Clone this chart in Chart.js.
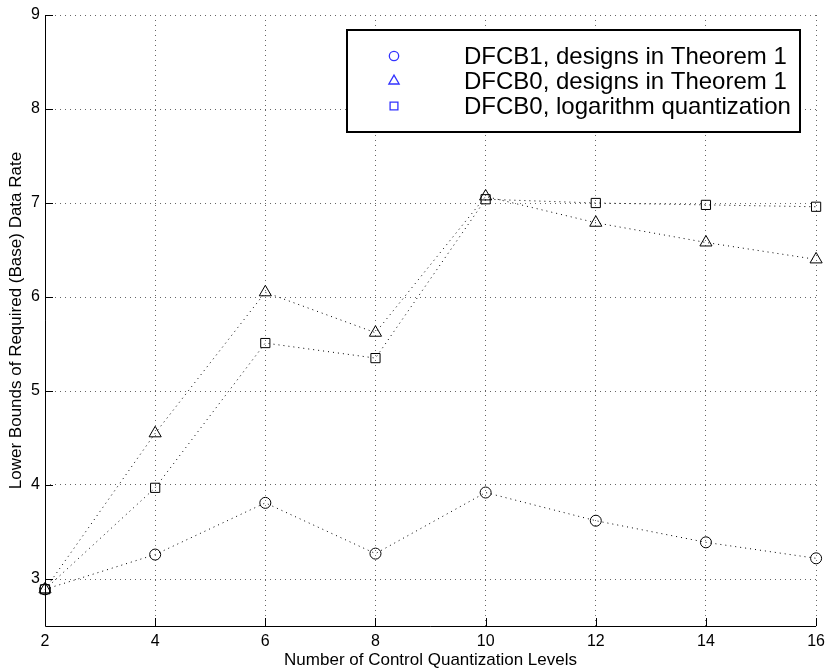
<!DOCTYPE html>
<html>
<head>
<meta charset="utf-8">
<script src="https://cdn.jsdelivr.net/npm/chart.js@4/dist/chart.umd.min.js"></script>
<style>
html,body{margin:0;padding:0;background:#fff;}
#wrap{width:831px;height:669px;}
</style>
</head>
<body>
<div id="wrap"><canvas id="c" width="831" height="669"></canvas></div>
<script>
const categories = [2, 4, 6, 8, 10, 12, 14, 16];
const dfcb1Theorem = [2.89, 3.26, 3.81, 3.27, 3.92, 3.62, 3.39, 3.22];
const dfcb0Theorem = [2.89, 4.55, 6.05, 5.62, 7.07, 6.79, 6.58, 6.40];
const dfcb0Log     = [2.89, 3.97, 5.51, 5.35, 7.04, 7.00, 6.98, 6.96];
const seriesLabels = ['DFCB1, designs in Theorem 1', 'DFCB0, designs in Theorem 1', 'DFCB0, logarithm quantization'];
const xTicks = [2, 4, 6, 8, 10, 12, 14, 16];
const yTicks = [3, 4, 5, 6, 7, 8, 9];
const xTitle = 'Number of Control Quantization Levels';
const yTitle = 'Lower Bounds of Required (Base) Data Rate';

const FONT = "Arial, 'Liberation Sans', Helvetica, sans-serif";
const styles = [
  {pointStyle: 'circle', pointRadius: 5.5},
  {pointStyle: 'triangle', pointRadius: 7},
  {pointStyle: 'rect', pointRadius: 6.5}
];
const allSeries = [dfcb1Theorem, dfcb0Theorem, dfcb0Log];

const datasets = allSeries.map((vals, i) => ({
  label: seriesLabels[i],
  data: categories.map((x, j) => ({x: x, y: vals[j]})),
  borderColor: '#000',
  borderWidth: 1,
  borderDash: [1, 4],
  pointStyle: styles[i].pointStyle,
  pointRadius: styles[i].pointRadius,
  pointHoverRadius: styles[i].pointRadius,
  pointBorderColor: '#000',
  pointBackgroundColor: 'rgba(0,0,0,0)',
  pointBorderWidth: 1,
  fill: false,
  clip: false,
  tension: 0
}));

const inwardTicks = {
  id: 'inwardTicks',
  afterDraw(chart) {
    const ctx = chart.ctx;
    const x = chart.scales.x, y = chart.scales.y;
    const a = chart.chartArea;
    ctx.save();
    ctx.strokeStyle = '#000';
    ctx.lineWidth = 1;
    ctx.setLineDash([]);
    ctx.beginPath();
    ctx.moveTo(Math.round(a.left) + 0.5, a.top);
    ctx.lineTo(Math.round(a.left) + 0.5, Math.round(a.bottom) + 0.5);
    ctx.lineTo(a.right, Math.round(a.bottom) + 0.5);
    ctx.stroke();
    ctx.beginPath();
    xTicks.forEach(v => {
      const px = Math.round(x.getPixelForValue(v)) + 0.5;
      ctx.moveTo(px, a.bottom);
      ctx.lineTo(px, a.bottom - 8);
    });
    yTicks.forEach(v => {
      const py = Math.round(y.getPixelForValue(v)) + 0.5;
      ctx.moveTo(a.left, py);
      ctx.lineTo(a.left + 8, py);
    });
    ctx.stroke();

    // legend box
    const bx = 347, by = 30, bw = 453, bh = 102;
    ctx.fillStyle = '#fff';
    ctx.fillRect(bx, by, bw, bh);
    ctx.lineWidth = 2;
    ctx.strokeStyle = '#000';
    ctx.strokeRect(bx, by, bw, bh);
    const rowY = [56, 81, 106];
    chart.data.datasets.forEach((ds, i) => {
      ctx.fillStyle = 'rgba(0,0,0,0)';
      ctx.strokeStyle = '#3333ff';
      ctx.lineWidth = 1.3;
      Chart.helpers.drawPoint(ctx, {
        pointStyle: ds.pointStyle,
        radius: ds.pointRadius * 0.85,
        rotation: 0,
        borderWidth: 1.3
      }, 394, rowY[i]);
      ctx.fillStyle = '#000';
      ctx.font = '24px ' + FONT;
      ctx.textBaseline = 'middle';
      ctx.textAlign = 'left';
      ctx.fillText(ds.label, 464, rowY[i] + 1);
    });
    ctx.restore();
  }
};

new Chart(document.getElementById('c'), {
  type: 'line',
  data: {datasets: datasets},
  options: {
    responsive: false,
    animation: false,
    devicePixelRatio: 1,
    layout: {padding: {top: 15, right: 12, left: 0, bottom: 0}},
    plugins: {legend: {display: false}, tooltip: {enabled: false}},
    scales: {
      x: {
        type: 'linear',
        min: 2, max: 16,
        afterBuildTicks: s => { s.ticks = xTicks.map(v => ({value: v})); },
        afterFit: s => { s.height = 43; },
        grid: {color: '#666', lineWidth: 1, drawTicks: false},
        border: {display: false, dash: [1, 4]},
        ticks: {color: '#000', font: {family: FONT, size: 16}, padding: 6, maxRotation: 0, autoSkip: false},
        title: {display: true, text: xTitle, color: '#000', font: {family: FONT, size: 17, lineHeight: 1}, padding: {top: 0, bottom: 0}}
      },
      y: {
        type: 'linear',
        min: 2.5, max: 9,
        afterBuildTicks: s => { s.ticks = yTicks.map(v => ({value: v})); },
        afterFit: s => { s.width = 45; },
        grid: {color: '#666', lineWidth: 1, drawTicks: false},
        border: {display: false, dash: [1, 4]},
        ticks: {color: '#000', font: {family: FONT, size: 16}, padding: 5, autoSkip: false},
        title: {display: true, text: yTitle, color: '#000', font: {family: FONT, size: 17, lineHeight: 1}, padding: {top: 8, bottom: 0}}
      }
    }
  },
  plugins: [inwardTicks]
});
</script>
</body>
</html>
